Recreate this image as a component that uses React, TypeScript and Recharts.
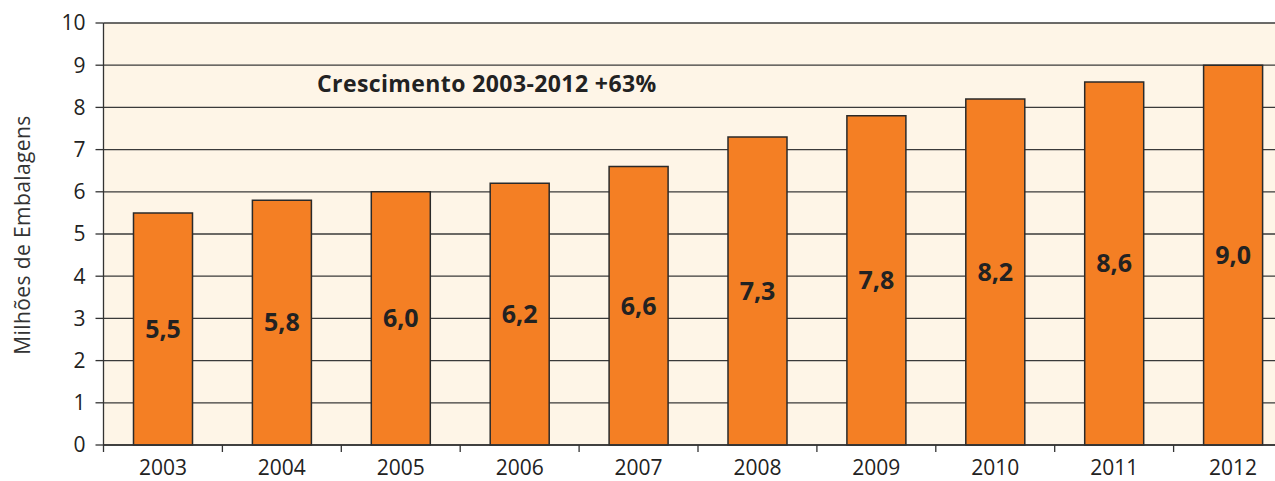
import { BarChart, Bar, XAxis, YAxis, CartesianGrid, LabelList } from "recharts"

const years = ["2003", "2004", "2005", "2006", "2007", "2008", "2009", "2010", "2011", "2012"]
const packages = [5.5, 5.8, 6.0, 6.2, 6.6, 7.3, 7.8, 8.2, 8.6, 9.0]
const yTicks = [0, 1, 2, 3, 4, 5, 6, 7, 8, 9, 10]

const data = years.map((year, i) => ({ year, value: packages[i] }))

const FONT = "'Open Sans', 'Noto Sans', sans-serif"
const PLOT_LEFT = 103.5
const PLOT_WIDTH = 1189
const BAND = PLOT_WIDTH / years.length

function formatValue(value: number | string) {
  return Number(value).toFixed(1).replace(".", ",")
}

function YearTick(props: any) {
  const { x, y, payload } = props
  const left = x - BAND / 2
  return (
    <g>
      <line x1={left} x2={left} y1={y} y2={y + 7} stroke="#333" strokeWidth={1.3} />
      <text x={x} y={y + 30} textAnchor="middle" fill="#222" fontSize={21} fontFamily={FONT}>
        {payload.value}
      </text>
    </g>
  )
}

function AxisTitle() {
  return (
    <text
      x={30}
      y={235}
      transform="rotate(-90 30 235)"
      textAnchor="middle"
      fill="#333"
      fontSize={21}
      letterSpacing={0.4}
      fontFamily={FONT}
    >
      Milhões de Embalagens
    </text>
  )
}

export default function App() {
  return (
    <div style={{ position: "absolute", left: 0, top: 0, width: 1275, height: 481, overflow: "hidden", background: "#fff" }}>
      <BarChart
        width={PLOT_LEFT + PLOT_WIDTH}
        height={481}
        data={data}
        margin={{ top: 23, right: 0, left: 0, bottom: 0 }}
      >
        <CartesianGrid vertical={false} stroke="#3a3a3a" strokeWidth={1.3} fill="#FEF5E7" fillOpacity={1} />
        <XAxis
          dataKey="year"
          height={36}
          tick={<YearTick />}
          tickLine={false}
          tickSize={0}
          tickMargin={0}
          axisLine={{ stroke: "#333", strokeWidth: 1.3 }}
          interval={0}
        />
        <YAxis
          width={PLOT_LEFT}
          domain={[0, 10]}
          ticks={yTicks}
          interval={0}
          tickSize={8}
          tickMargin={10}
          tick={{ fill: "#222", fontSize: 21, fontFamily: FONT }}
          tickLine={{ stroke: "#333", strokeWidth: 1.3 }}
          axisLine={{ stroke: "#333", strokeWidth: 1.3 }}
          label={<AxisTitle />}
        />
        <Bar dataKey="value" fill="#F47F24" stroke="#2a2a2a" strokeWidth={1.5} barSize={59} isAnimationActive={false}>
          <LabelList
            dataKey="value"
            position="center"
            formatter={formatValue}
            fill="#222"
            fontSize={25}
            fontWeight="bold"
            fontFamily={FONT}
          />
        </Bar>
      </BarChart>
      <div
        style={{
          position: "absolute",
          left: 317,
          top: 68,
          fontFamily: FONT,
          fontWeight: "bold",
          fontSize: 23,
          letterSpacing: 0.4,
          lineHeight: "30px",
          color: "#222",
          whiteSpace: "nowrap",
        }}
      >
        Crescimento 2003-2012 +63%
      </div>
    </div>
  )
}
